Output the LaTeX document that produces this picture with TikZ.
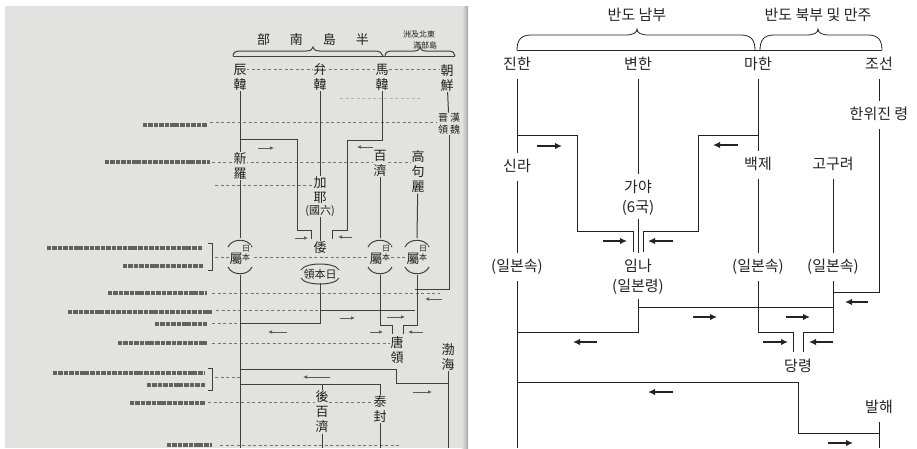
\documentclass[tikz,border=0pt]{standalone}
\usepackage{fontspec}
\usetikzlibrary{arrows.meta}
\newfontfamily\kfont{Noto Sans CJK KR}
\newfontfamily\hfont{Noto Sans CJK TC}
\definecolor{photobg}{RGB}{226,226,224}
\definecolor{ink}{RGB}{35,35,35}
\tikzset{
  lbl/.style={font=\kfont\fontsize{15}{20}\selectfont, text=ink, inner xsep=2pt, inner ysep=7pt, text height=11pt, text depth=3pt},
  link/.style={draw=ink, line width=0.8pt},
  flow/.style={-{Latex[length=7pt,width=6.5pt]}, draw=ink, line width=1.7pt},
  hanja/.style={font=\hfont\fontsize{13}{15}\selectfont, text=black!88, align=center, inner sep=0.5pt, fill=photobg},
  small/.style={hanja, font=\hfont\fontsize{8}{9}\selectfont},
  old/.style={draw=black!75, line width=1pt},
  oldflow/.style={-{Latex[length=4pt,width=3.5pt]}, draw=black!65, line width=0.7pt},
  leader/.style={draw=black!55, dash pattern=on 3pt off 2.5pt, line width=0.6pt},
  blur/.style={draw=black!62, line width=4.5pt, dash pattern=on 4pt off 1pt on 5pt off 0.8pt},
  pics/shu/.style={code={
    \draw[old] (-12,-9) .. controls (-8,-18) and (8,-18) .. (12,-9);
    \draw[old] (-12,11) .. controls (-8,20) and (8,20) .. (12,11);
    \node[hanja] (-s) at (-4,3) {屬};
    \node[small] (-r) at (6,-3) {日\\本};
  }}
}
\begin{document}
\begin{tikzpicture}[x=1pt,y=-1pt]
\useasboundingbox (0,0) rectangle (917,448);
\coordinate (bot) at (0,448);

% scanned page
\fill[photobg] (5,6) rectangle (462,448);
\shade[left color=photobg, right color=black!35] (462,6) rectangle (468,448);

% page text lines (illegible print)
\draw[blur] (143,125) -- (207,125);
\draw[blur] (105,162) -- (210,162);
\draw[blur] (47,248) -- (203,248);
\draw[blur] (123,266) -- (203,266);
\draw[blur] (108,293) -- (207,293);
\draw[blur] (68,312) -- (213,312);
\draw[blur] (155,324) -- (207,324);
\draw[blur] (118,343) -- (207,343);
\draw[blur] (53,373) -- (205,373);
\draw[blur] (147,385) -- (205,385);
\draw[blur] (130,403) -- (205,403);
\draw[blur] (167,445) -- (212,445);
\draw[old] (208,243) -- (212,243) -- (212,270) -- (208,270);
\draw[old] (208,368) -- (212,368) -- (212,390) -- (208,390);

% leaders
\draw[leader] (246,69) -- (440,69);
\draw[leader, draw=black!30] (340,98) -- (420,98);
\draw[leader] (210,122) -- (436,122);
\draw[leader] (212,162) -- (417,162);
\draw[leader] (215,185) -- (318,185);
\draw[leader] (215,257) -- (415,257);
\draw[leader] (212,293) -- (440,293);
\draw[leader] (216,310) -- (320,310);
\draw[leader] (212,323) -- (240,323);
\draw[leader] (212,343) -- (396,343);
\draw[leader] (215,377) -- (240,377);
\draw[leader] (208,402) -- (380,402);
\draw[leader] (220,445) -- (400,445);

% page title and braces
\node[hanja, font=\hfont\fontsize{13}{15}\selectfont] (pTitle) at (313,40) {部\hspace{20pt}南\hspace{20pt}島\hspace{20pt}半};
\node[small] (pNorthA) at (419,34) {洲及北東};
\node[small] (pNorthB) at (425,45) {滿部島};
\draw[old] (233,56) .. controls (233,52) and (236,51) .. (241,51) -- (306,51) .. controls (311,51) and (313,49) .. (313,47) .. controls (313,49) and (315,51) .. (320,51) -- (375,51) .. controls (380,51) and (382,53) .. (383,56);
\draw[old] (385,56) .. controls (385,52) and (388,51) .. (393,51) -- (414,51) .. controls (418,51) and (420,49) .. (420,47) .. controls (420,49) and (422,51) .. (426,51) -- (448,51) .. controls (453,51) and (455,53) .. (455,56);
\draw[old] (233,56) -- (455,56);

% page columns
\node[hanja] (pJin) at (240,77) {辰\\韓};
\node[hanja] (pByeon) at (320,77) {弁\\韓};
\node[hanja] (pMa) at (382,77) {馬\\韓};
\node[hanja] (pJo) at (447,78) {朝\\鮮};
\node[hanja, font=\hfont\fontsize{10}{12}\selectfont] (pHanwi) at (449,124) {晋\hspace{2pt}漢\\領\hspace{2pt}魏};
\node[hanja] (pSilla) at (240,166) {新\\羅};
\node[hanja] (pGaya) at (320,190) {加\\耶};
\node[hanja, font=\hfont\fontsize{11}{12}\selectfont] (pGayaS) at (320,211) {(國六)};
\node[hanja] (pBaek) at (380,163) {百\\濟};
\node[hanja] (pGogu) at (418,172) {高\\句\\麗};
\node[hanja] (pWae) at (320,248) {倭};
\node[hanja, font=\hfont\fontsize{11}{12}\selectfont] (pWaeS) at (320,274) {領本日};
\draw[old] (301,270) .. controls (305,262) and (335,262) .. (339,270);
\draw[old] (301,278) .. controls (305,286) and (335,286) .. (339,278);
\pic (p1) at (240,256) {shu};
\pic (p2) at (380,256) {shu};
\pic (p3) at (417,256) {shu};
\node[hanja] (pTang) at (397,350) {唐\\領};
\node[hanja] (pBal) at (448,357) {渤\\海};
\node[hanja] (pHubaek) at (322,412) {後\\百\\濟};
\node[hanja] (pTae) at (380,409) {泰\\封};

\draw[old] (pJin) -- (pSilla);
\draw[old] (pSilla) -- (240,238);
\draw[old] (240,275) -- (240,448);
\draw[old] (240,139) -| (297,230) -| (311,239);
\draw[old] (pByeon) -- (pGaya);
\draw[old] (pGayaS) -- (pWae);
\draw[old] (320,283) -- (320,323) -- (240,323);
\draw[old] (320,310) -- (415,310);
\draw[old] (pMa) |- (347,140) -- (347,230) -| (332,239);
\draw[old] (pBaek) -- (380,238);
\draw[old] (380,275) |- (392,325) -- (392,334);
\draw[old] (pGogu) -- (417,238);
\draw[old] (417,275) |- (403,325) -- (403,334);
\draw[old] (pJo) -- (pHanwi);
\draw[old] (pHanwi) |- (415,289);
\draw[old] (240,369) -| (396,383) -- (448,383);
\draw[old] (pBal) -- (pBal |- bot);
\draw[old] (240,384) -| (pTae);
\draw[old] (322,384) -- (pHubaek);
\draw[old] (pHubaek) -- (pHubaek |- bot);
\draw[old] (pTae) -- (pTae |- bot);

\draw[oldflow] (258,148) -- (274,148);
\draw[oldflow] (373,147) -- (357,147);
\draw[oldflow] (295,238) -- (308,238);
\draw[oldflow] (352,237) -- (338,237);
\draw[oldflow] (442,299) -- (425,299);
\draw[oldflow] (340,318) -- (355,318);
\draw[oldflow] (387,317) -- (405,317);
\draw[oldflow] (370,332) -- (383,332);
\draw[oldflow] (423,332) -- (408,332);
\draw[oldflow] (287,332) -- (268,332);
\draw[oldflow] (330,377) -- (303,377);
\draw[oldflow] (413,392) -- (432,392);

% Korean chart
\node[lbl] (nambu) at (637,16) {반도 남부};
\node[lbl] (bukbu) at (818,16) {반도 북부 및 만주};
\draw[link] (517,50) .. controls (517,40) and (521,35) .. (531,35) -- (625,35) .. controls (633,35) and (637,33) .. (637,29) .. controls (637,33) and (641,35) .. (649,35) -- (741,35) .. controls (751,35) and (755,40) .. (755,50);
\draw[link] (760,50) .. controls (760,40) and (764,35) .. (774,35) -- (806,35) .. controls (814,35) and (818,33) .. (818,29) .. controls (818,33) and (822,35) .. (830,35) -- (868,35) .. controls (878,35) and (882,40) .. (882,50);
\draw[link] (517,50) -- (882,50);

\node[lbl] (jinhan) at (517,65) {진한};
\node[lbl] (byeonhan) at (638,65) {변한};
\node[lbl] (mahan) at (758,65) {마한};
\node[lbl] (joseon) at (879,65) {조선};
\node[lbl] (hanwi) at (879,115) {한위진 령};
\node[lbl] (silla) at (517,167) {신라};
\node[lbl] (gaya) at (638,188) {가야};
\node[lbl, inner ysep=4pt] (gayasub) at (638,208) {(6국)};
\node[lbl] (baekje) at (758,165) {백제};
\node[lbl] (goguryeo) at (833,165) {고구려};
\node[lbl] (sillaJ) at (517,267) {(일본속)};
\node[lbl] (imna) at (638,267) {임나};
\node[lbl, inner ysep=5pt] (imnasub) at (638,287) {(일본령)};
\node[lbl] (baekjeJ) at (758,267) {(일본속)};
\node[lbl] (goguryeoJ) at (833,267) {(일본속)};
\node[lbl] (dangryeong) at (798,367) {당령};
\node[lbl] (balhae) at (879,408) {발해};
\coordinate (gl) at (633,252);
\coordinate (gr) at (643,252);
\coordinate (dl) at (793,352);
\coordinate (dr) at (803,352);

\draw[link] (jinhan) -- (silla);
\draw[link] (silla) -- (sillaJ);
\draw[link] (sillaJ) -- (sillaJ |- bot);
\draw[link] (517,135) -| (577,231) -| (gl);
\draw[link] (byeonhan) -- (gaya);
\draw[link] (gayasub) -- (imna);
\draw[link] (mahan) -- (baekje);
\draw[link] (758,135) -| (698,231) -| (gr);
\draw[link] (baekje) -- (baekjeJ);
\draw[link] (baekjeJ) |- (793,332) -- (dl);
\draw[link] (goguryeo) -- (goguryeoJ);
\draw[link] (goguryeoJ) |- (803,332) -- (dr);
\draw[link] (joseon) -- (hanwi);
\draw[link] (hanwi) |- (833,292);
\draw[link] (imnasub) |- (517,332);
\draw[link] (638,307) -- (833,307);
\draw[link] (517,382) -| (798,433) -- (879,433);
\draw[link] (balhae) -- (balhae |- bot);

\draw[flow] (537,146) -- (562,146);
\draw[flow] (738,145) -- (713,145);
\draw[flow] (603,241) -- (627,241);
\draw[flow] (673,241) -- (648,241);
\draw[flow] (868,302) -- (845,302);
\draw[flow] (693,317) -- (717,317);
\draw[flow] (786,317) -- (810,317);
\draw[flow] (763,342) -- (788,342);
\draw[flow] (833,342) -- (809,342);
\draw[flow] (597,342) -- (573,342);
\draw[flow] (673,392) -- (648,392);
\draw[flow] (828,443) -- (853,443);
\end{tikzpicture}
\end{document}
